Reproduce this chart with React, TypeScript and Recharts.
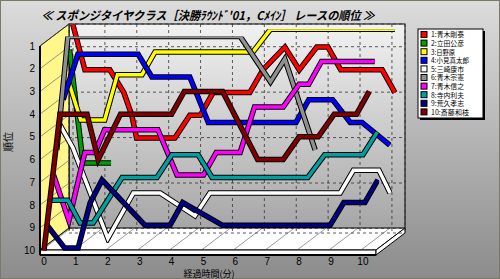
import React from 'react';
import { LineChart, Line, XAxis, YAxis, CartesianGrid } from 'recharts';

const names = ['1:青木剛泰', '2:立田公彦', '3:日野原', '4:小見真太郎', '5:三崎康市', '6:青木宗憲', '7:青木信之', '8:寺内利夫', '9:荒久孝志', '10:斎藤和枝'];
const colors = ['#ff0000', '#00a000', '#ffff00', '#0000ff', '#ffffff', '#909090', '#ff00ff', '#00a0a0', '#000080', '#800000'];
const xTicks = [0, 1, 2, 3, 4, 5, 6, 7, 8, 9, 10];
const yTicks = [1, 2, 3, 4, 5, 6, 7, 8, 9, 10];

// time (min) / rank pairs per driver
const car1 = [
  { t: 0, r: 1 }, { t: 0.38, r: 3 }, { t: 1.16, r: 3 }, { t: 1.6, r: 4 }, { t: 1.85, r: 5 }, { t: 2.0, r: 6 },
  { t: 3.2, r: 6 }, { t: 3.67, r: 5 }, { t: 4.0, r: 5 }, { t: 4.4, r: 4 }, { t: 5.55, r: 4 }, { t: 5.96, r: 3 },
  { t: 6.65, r: 2 }, { t: 7.1, r: 3 }, { t: 7.65, r: 2 }, { t: 8.0, r: 2 }, { t: 8.4, r: 3 }, { t: 9.7, r: 3 }, { t: 10.1, r: 4 },
];
const car2 = [{ t: 0, r: 2 }, { t: 0.42, r: 7 }, { t: 1.3, r: 7 }];
const car3 = [
  { t: 0, r: 3 }, { t: 0.45, r: 5 }, { t: 1.2, r: 5 }, { t: 1.6, r: 3 }, { t: 2.37, r: 3 }, { t: 2.78, r: 2 },
  { t: 5.85, r: 2 }, { t: 6.4, r: 1 }, { t: 10.3, r: 1 },
];
const car4 = [
  { t: 0, r: 4 }, { t: 0.46, r: 2 }, { t: 2.35, r: 2 }, { t: 2.78, r: 3 }, { t: 3.97, r: 3 }, { t: 4.55, r: 5 },
  { t: 7.3, r: 5 }, { t: 7.7, r: 4 }, { t: 8.45, r: 4 }, { t: 9.0, r: 5 }, { t: 9.37, r: 5 }, { t: 10.24, r: 6 },
];
const car5 = [
  { t: 0, r: 5 }, { t: 0.4, r: 6 }, { t: 1.5, r: 10 }, { t: 2.3, r: 8 }, { t: 3.14, r: 8 }, { t: 4.23, r: 9 },
  { t: 4.7, r: 8 }, { t: 8.78, r: 8 }, { t: 9.2, r: 7 }, { t: 10.0, r: 7 }, { t: 10.35, r: 8 },
];
const car6 = [{ t: 0, r: 6 }, { t: 0.35, r: 1 }, { t: 5.75, r: 1 }, { t: 6.7, r: 3 }, { t: 7.15, r: 2 }, { t: 8.1, r: 6 }];
const car7 = [
  { t: 0, r: 7 }, { t: 0.48, r: 9 }, { t: 0.98, r: 6 }, { t: 1.3, r: 6 }, { t: 1.6, r: 5 }, { t: 3.27, r: 5 },
  { t: 3.87, r: 7 }, { t: 4.7, r: 7 }, { t: 5.1, r: 6 }, { t: 5.85, r: 6 }, { t: 6.3, r: 4 }, { t: 7.2, r: 4 },
  { t: 7.7, r: 3 }, { t: 8.0, r: 3 }, { t: 8.4, r: 2 }, { t: 10.07, r: 2 },
];
const car8 = [
  { t: 0, r: 8 }, { t: 0.55, r: 8 }, { t: 0.93, r: 9 }, { t: 1.34, r: 9 }, { t: 2.25, r: 7 }, { t: 3.34, r: 7 },
  { t: 3.81, r: 6 }, { t: 4.63, r: 6 }, { t: 5.07, r: 7 }, { t: 8.07, r: 7 }, { t: 8.6, r: 6 }, { t: 9.8, r: 6 }, { t: 10.25, r: 5 },
];
const car9 = [
  { t: 0, r: 9 }, { t: 0.55, r: 10 }, { t: 0.97, r: 10 }, { t: 1.35, r: 8 }, { t: 1.72, r: 7 }, { t: 3.07, r: 9 },
  { t: 3.85, r: 9 }, { t: 4.25, r: 8 }, { t: 5.5, r: 9 }, { t: 8.87, r: 9 }, { t: 9.3, r: 8 }, { t: 9.96, r: 8 }, { t: 10.37, r: 7 },
];
const car10 = [
  { t: 0, r: 10 }, { t: 0.5, r: 4 }, { t: 1.35, r: 4 }, { t: 1.7, r: 6 }, { t: 2.4, r: 4 }, { t: 4.0, r: 4 },
  { t: 4.4, r: 3 }, { t: 5.6, r: 3 }, { t: 6.7, r: 6 }, { t: 7.5, r: 6 }, { t: 8.0, r: 5 }, { t: 8.6, r: 5 },
  { t: 9.1, r: 4 }, { t: 9.8, r: 4 }, { t: 10.2, r: 3 },
];
const series = [car1, car2, car3, car4, car5, car6, car7, car8, car9, car10];

const title = "≪ スポンジタイヤクラス［決勝ﾗｳﾝﾄﾞ'01，Cﾒｲﾝ］ レースの順位 ≫";
const xLabel = '経過時間(分)';
const yLabel = '順位';

// 3D geometry
const DX = 3.2;
const DY = 2.4;
const BX = 29;
const BY = 22;
const fx = (t: number) => 44 + 31.9 * t;
const fy = (r: number) => 46 + 22.72 * (r - 1);

const css = series
  .map((_, i) => `.ser-${i} { transform: translate(${(9 - i) * DX}px, ${-(9 - i) * DY}px); }`)
  .join('\n') + `\n.recharts-cartesian-grid { transform: translate(${BX}px, ${-BY}px); }`;

function Background() {
  const fl = 40, fr = 376, top = 46, bot = 250;
  return (
    <svg width={500} height={279} style={{ position: 'absolute', left: 0, top: 0 }}>
      <defs>
        <linearGradient id="bg" x1="0" y1="0" x2="0" y2="1">
          <stop offset="0%" stopColor="#dcdcdc" />
          <stop offset="100%" stopColor="#8c8c8c" />
        </linearGradient>
        <linearGradient id="wall" x1="0" y1="0" x2="0" y2="1">
          <stop offset="0%" stopColor="#f2f2f2" />
          <stop offset="100%" stopColor="#a6a6a6" />
        </linearGradient>
      </defs>
      <rect x={0} y={0} width={500} height={279} fill="url(#bg)" />
      <rect x={0.5} y={0.5} width={499} height={278} fill="none" stroke="#7a7a6a" strokeWidth={1} />
      <rect x={fl + BX} y={top - BY} width={fr - fl} height={bot - top + 1} fill="url(#wall)" stroke="#000" strokeWidth={1} />
      <polygon points={`${fl},${bot} ${fr},${bot} ${fr + BX},${bot - BY} ${fl + BX},${bot - BY}`} fill="#fff" stroke="#000" strokeWidth={1} />
      {xTicks.map((t) => (
        <line key={t} x1={fx(t) - 2} y1={bot} x2={fx(t) + BX - 2} y2={bot - BY} stroke="#555" strokeWidth={0.6} />
      ))}
      <rect x={fl} y={bot} width={fr - fl} height={5} fill="#fff" stroke="#000" strokeWidth={1} />
      <polygon points={`${fr},${bot} ${fr + BX},${bot - BY} ${fr + BX},${bot - BY + 5} ${fr},${bot + 5}`} fill="#fff" stroke="#000" strokeWidth={1} />
      <polygon points={`${fl},${top} ${fl + BX},${top - BY} ${fl + BX},${bot - BY} ${fl},${bot}`} fill="#fff68c" stroke="#000" strokeWidth={1} />
      {yTicks.map((r) => (
        <line key={r} x1={fl} y1={fy(r)} x2={fl + BX} y2={fy(r) - BY} stroke="#555" strokeWidth={0.6} />
      ))}
      <text x={208} y={20} fontFamily="'Noto Sans CJK JP'" fontSize={12} fontWeight="bold" fontStyle="italic" textAnchor="middle" textLength={333} lengthAdjust="spacingAndGlyphs" fill="#000">
        {title}
      </text>
      <text x={209} y={277} fontFamily="'Noto Sans CJK JP'" fontSize={9} textAnchor="middle" fill="#000">{xLabel}</text>
      <text x={12} y={142} fontFamily="'Noto Sans CJK JP'" fontSize={10} textAnchor="middle" transform="rotate(-90 12 142)" fill="#000">{yLabel}</text>
    </svg>
  );
}

function LegendBox() {
  const lx = 418, ly = 29, lw = 65, lh = 89, step = 8.6;
  return (
    <svg width={500} height={279} style={{ position: 'absolute', left: 0, top: 0 }}>
      <rect x={lx + 2} y={ly + 2} width={lw} height={lh} fill="#000" />
      <rect x={lx} y={ly} width={lw} height={lh} fill="#fff" stroke="#000" strokeWidth={1} />
      {names.map((n, i) => (
        <rect key={n} x={lx + 3} y={ly + 2.5 + i * step} width={6} height={6} fill={colors[i]} stroke="#000" strokeWidth={1} />
      ))}
      {names.map((n, i) => (
        <text key={n} x={lx + 13} y={ly + 8.3 + i * step} fontFamily="'Noto Sans CJK JP'" fontSize={7} textLength={n.length > 6 ? 38 : n.length > 5 ? 33 : 24} lengthAdjust="spacingAndGlyphs" fill="#000">{n}</text>
      ))}
    </svg>
  );
}

export default function App() {
  return (
    <div style={{ position: 'fixed', left: 0, top: 0, width: 500, height: 279, overflow: 'hidden' }}>
      <style>{css}</style>
      <Background />
      <div style={{ position: 'absolute', left: 0, top: 0 }}>
        <LineChart width={500} height={279} margin={{ top: 46, right: 124, bottom: 0, left: 0 }}>
          <CartesianGrid stroke="#333" strokeDasharray="3 3" strokeWidth={0.8} />
          <XAxis
            type="number"
            dataKey="t"
            domain={[-0.125, 10.41]}
            ticks={xTicks}
            height={24}
            tickSize={0}
            tickMargin={3}
            tickLine={false}
            axisLine={{ stroke: '#000', strokeWidth: 2 }}
            tick={{ fill: '#000', fontSize: 10, fontFamily: "'Liberation Sans'" }}
            allowDataOverflow
          />
          <YAxis
            type="number"
            dataKey="r"
            reversed
            domain={[1, 10.2]}
            ticks={yTicks}
            width={40}
            tickSize={0}
            tickMargin={5}
            tickLine={false}
            axisLine={{ stroke: '#000', strokeWidth: 2 }}
            tick={{ fill: '#000', fontSize: 10, fontFamily: "'Liberation Sans'" }}
            allowDataOverflow
          />
          {series.flatMap((d, i) => [
            <Line key={`o${i}`} className={`ser-${i}`} data={d} dataKey="r" type="linear" stroke="#000" strokeWidth={5.5} dot={false} activeDot={false} legendType="none" isAnimationActive={false} />,
            <Line key={`c${i}`} className={`ser-${i}`} data={d} dataKey="r" name={names[i]} type="linear" stroke={colors[i]} strokeWidth={3.5} dot={false} activeDot={false} isAnimationActive={false} />,
          ])}
        </LineChart>
      </div>
      <LegendBox />
    </div>
  );
}
